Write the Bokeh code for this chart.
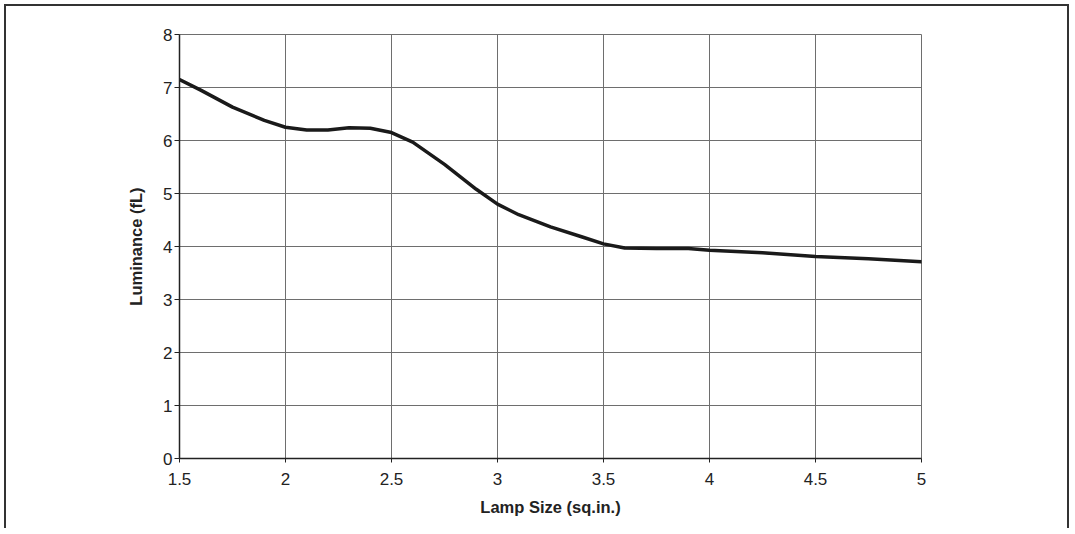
from bokeh.plotting import figure
from bokeh.models import Range1d, FixedTicker
from bokeh.embed import file_html
from bokeh.resources import INLINE

# data
lamp_size = [1.5, 1.6, 1.75, 1.9, 2.0, 2.1, 2.2, 2.3, 2.4, 2.5, 2.6, 2.75, 2.9,
             3.0, 3.1, 3.25, 3.4, 3.5, 3.6, 3.75, 3.9, 4.0, 4.25, 4.5, 4.75, 5.0]
luminance = [7.15, 6.95, 6.63, 6.38, 6.25, 6.20, 6.20, 6.24, 6.23, 6.15, 5.97, 5.55, 5.08,
             4.80, 4.60, 4.37, 4.18, 4.05, 3.97, 3.96, 3.96, 3.93, 3.88, 3.81, 3.77, 3.71]

x_ticks = [1.5, 2, 2.5, 3, 3.5, 4, 4.5, 5]
y_ticks = [0, 1, 2, 3, 4, 5, 6, 7, 8]
x_label = "Lamp Size (sq.in.)"
y_label = "Luminance (fL)"

FONT = "Liberation Sans"
GRID = "#6e6e6e"
TXT = "#222222"

p = figure(width=1065, height=524, output_backend="svg", toolbar_location=None,
           x_range=Range1d(1.5, 5), y_range=Range1d(0, 8),
           min_border_left=173, min_border_right=150, min_border_top=28, min_border_bottom=72)

p.styles = {"margin-left": "4px", "margin-top": "4px",
            "border-left": "2px solid #333", "border-top": "2px solid #333",
            "border-right": "2px solid #333"}

p.background_fill_color = "white"
p.border_fill_color = "white"
p.outline_line_color = GRID
p.outline_line_width = 1

p.line(lamp_size, luminance, line_color="#1a1a1a", line_width=3.5, line_join="round", line_cap="round")

p.xaxis.ticker = FixedTicker(ticks=x_ticks)
p.yaxis.ticker = FixedTicker(ticks=y_ticks)
p.xaxis.major_label_overrides = {1.5: "1.5", 2: "2", 2.5: "2.5", 3: "3", 3.5: "3.5", 4: "4", 4.5: "4.5", 5: "5"}

for ax in (p.xaxis, p.yaxis):
    ax.axis_line_color = TXT
    ax.axis_line_width = 1.5
    ax.major_tick_line_color = TXT
    ax.major_tick_in = 0
    ax.minor_tick_line_color = None
    ax.major_label_text_font = FONT
    ax.major_label_text_font_size = "17px"
    ax.major_label_text_color = TXT
    ax.axis_label_text_font = FONT
    ax.axis_label_text_font_size = "16.5px"
    ax.axis_label_text_font_style = "bold"
    ax.axis_label_text_color = TXT

p.xaxis.major_tick_out = 4
p.xaxis.major_label_standoff = 10
p.xaxis.axis_label = x_label
p.xaxis.axis_label_standoff = 10

p.yaxis.major_tick_out = 5
p.yaxis.major_label_standoff = 2
p.yaxis.axis_label = y_label
p.yaxis.axis_label_standoff = 15

p.xgrid.grid_line_color = GRID
p.ygrid.grid_line_color = GRID
p.xgrid.grid_line_width = 1
p.ygrid.grid_line_width = 1

open("out.html", "w").write(file_html(p, INLINE))
